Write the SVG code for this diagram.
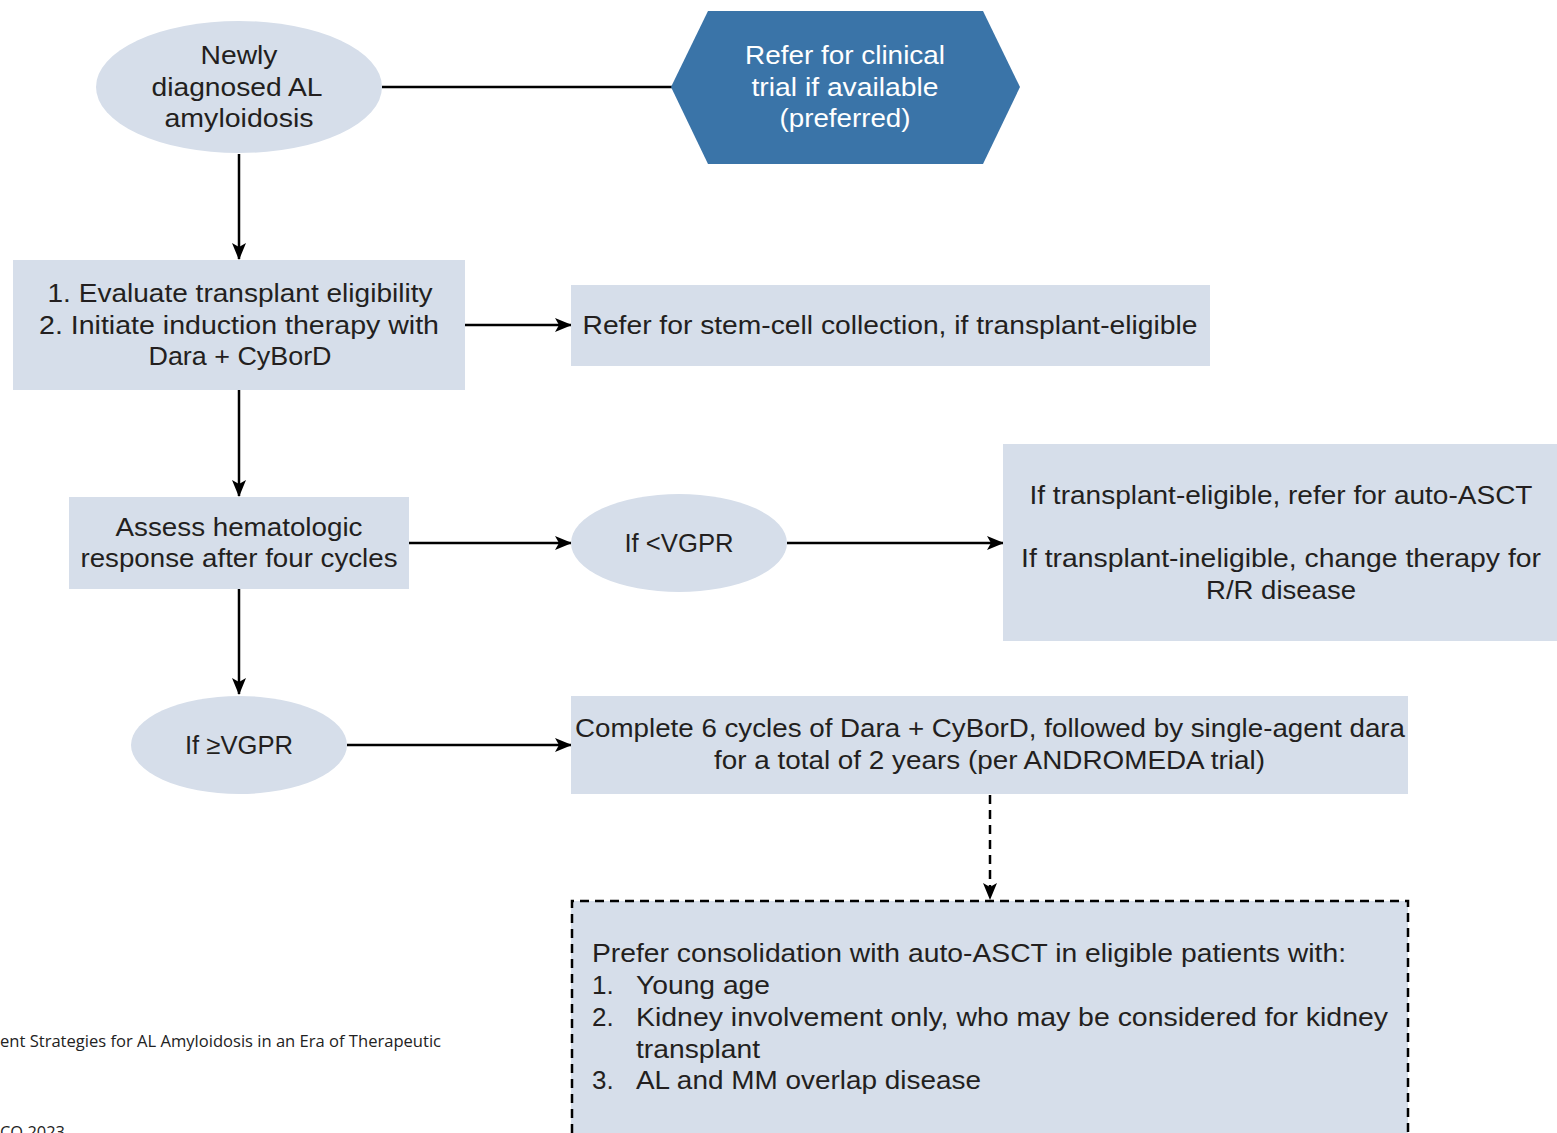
<svg xmlns="http://www.w3.org/2000/svg" width="1557" height="1133" viewBox="0 0 1557 1133">
<style>
.box{fill:#d6deea}
.t{font-family:"Liberation Sans",Arial,sans-serif;font-size:26px;fill:#231f20;text-anchor:middle}
.c{font-family:"Liberation Sans",Arial,sans-serif;font-size:26px;fill:#231f20}
.w{font-family:"Liberation Sans",Arial,sans-serif;font-size:26px;fill:#ffffff;text-anchor:middle}
.ln{stroke:#000;stroke-width:2.5;fill:none}
.dash{stroke:#000;stroke-width:2.5;fill:none;stroke-dasharray:9,6}
.foot{font-family:"Open Sans","Liberation Sans",sans-serif;font-size:16px;fill:#222}
</style>
<defs>
<marker id="ah" viewBox="0 0 17 14" refX="16" refY="7" markerWidth="17" markerHeight="14" markerUnits="userSpaceOnUse" orient="auto">
<path d="M0,0 L17,7 L0,14 L4,7 Z" fill="#000"/>
</marker>
</defs>
<rect width="1557" height="1133" fill="#fff"/>
<g id="connectors">
<line class="ln" x1="382" y1="87" x2="672" y2="87"/>
<line class="ln" x1="239" y1="154" x2="239" y2="259" marker-end="url(#ah)"/>
<line class="ln" x1="465" y1="325" x2="571" y2="325" marker-end="url(#ah)"/>
<line class="ln" x1="239" y1="390" x2="239" y2="496" marker-end="url(#ah)"/>
<line class="ln" x1="409" y1="543" x2="571" y2="543" marker-end="url(#ah)"/>
<line class="ln" x1="787" y1="543" x2="1003" y2="543" marker-end="url(#ah)"/>
<line class="ln" x1="239" y1="589" x2="239" y2="694" marker-end="url(#ah)"/>
<line class="ln" x1="347" y1="745" x2="571" y2="745" marker-end="url(#ah)"/>
<line class="dash" x1="990" y1="795" x2="990" y2="899" marker-end="url(#ah)"/>
</g>
<g id="n-start">
<ellipse class="box" cx="239" cy="87" rx="143" ry="66"/>
<text class="t" x="239" y="64" textLength="77" lengthAdjust="spacingAndGlyphs">Newly</text>
<text class="t" x="237" y="96" textLength="171" lengthAdjust="spacingAndGlyphs">diagnosed AL</text>
<text class="t" x="239" y="127" textLength="149" lengthAdjust="spacingAndGlyphs">amyloidosis</text>
</g>
<g id="n-trial">
<polygon points="671,87 708,11 983,11 1020,87 983,164 708,164" fill="#3a74a8"/>
<text class="w" x="845" y="64" textLength="200" lengthAdjust="spacingAndGlyphs">Refer for clinical</text>
<text class="w" x="845" y="96" textLength="187" lengthAdjust="spacingAndGlyphs">trial if available</text>
<text class="w" x="845" y="127" textLength="131" lengthAdjust="spacingAndGlyphs">(preferred)</text>
</g>
<g id="n-eval">
<rect class="box" x="13" y="260" width="452" height="130"/>
<text class="t" x="240" y="302" textLength="385" lengthAdjust="spacingAndGlyphs">1. Evaluate transplant eligibility</text>
<text class="t" x="239" y="334" textLength="400" lengthAdjust="spacingAndGlyphs">2. Initiate induction therapy with</text>
<text class="t" x="240" y="365" textLength="183" lengthAdjust="spacingAndGlyphs">Dara + CyBorD</text>
</g>
<g id="n-stem">
<rect class="box" x="571" y="285" width="639" height="81"/>
<text class="t" x="890" y="334" textLength="615" lengthAdjust="spacingAndGlyphs">Refer for stem-cell collection, if transplant-eligible</text>
</g>
<g id="n-assess">
<rect class="box" x="69" y="497" width="340" height="92"/>
<text class="t" x="239" y="536" textLength="247" lengthAdjust="spacingAndGlyphs">Assess hematologic</text>
<text class="t" x="239" y="567" textLength="317" lengthAdjust="spacingAndGlyphs">response after four cycles</text>
</g>
<g id="n-lt">
<ellipse class="box" cx="679" cy="543" rx="108" ry="49"/>
<text class="t" x="679" y="552" textLength="109" lengthAdjust="spacingAndGlyphs">If &lt;VGPR</text>
</g>
<g id="n-refer">
<rect class="box" x="1003" y="444" width="554" height="197"/>
<text class="t" x="1281" y="504" textLength="503" lengthAdjust="spacingAndGlyphs">If transplant-eligible, refer for auto-ASCT</text>
<text class="t" x="1281" y="567" textLength="520" lengthAdjust="spacingAndGlyphs">If transplant-ineligible, change therapy for</text>
<text class="t" x="1281" y="599" textLength="150" lengthAdjust="spacingAndGlyphs">R/R  disease</text>
</g>
<g id="n-ge">
<ellipse class="box" cx="239" cy="745" rx="108" ry="49"/>
<text class="t" x="239" y="754" textLength="108" lengthAdjust="spacingAndGlyphs">If ≥VGPR</text>
</g>
<g id="n-complete">
<rect class="box" x="571" y="696" width="837" height="98"/>
<text class="c" x="575" y="737" textLength="830" lengthAdjust="spacingAndGlyphs">Complete 6 cycles of Dara + CyBorD, followed by single-agent dara</text>
<text class="c" x="714" y="769" textLength="551" lengthAdjust="spacingAndGlyphs">for a total of 2 years (per ANDROMEDA trial)</text>
</g>
<g id="n-consol">
<rect class="box" x="571" y="901" width="837" height="240"/>
<path class="dash" d="M572,1133 V901 H1408 V1133"/>
<text class="c" x="592" y="962" textLength="754" lengthAdjust="spacingAndGlyphs">Prefer consolidation with auto-ASCT in eligible patients with:</text>
<text class="c" x="592" y="994">1.</text>
<text class="c" x="636" y="994" textLength="134" lengthAdjust="spacingAndGlyphs">Young age</text>
<text class="c" x="592" y="1026">2.</text>
<text class="c" x="636" y="1026" textLength="752" lengthAdjust="spacingAndGlyphs">Kidney involvement only, who may be considered for kidney</text>
<text class="c" x="636" y="1058" textLength="124" lengthAdjust="spacingAndGlyphs">transplant</text>
<text class="c" x="592" y="1089">3.</text>
<text class="c" x="636" y="1089" textLength="345" lengthAdjust="spacingAndGlyphs">AL and MM overlap disease</text>
</g>
<g id="footer">
<text class="foot" x="0" y="1047" textLength="441" lengthAdjust="spacingAndGlyphs">ent Strategies for AL Amyloidosis in an Era of Therapeutic</text>
<text class="foot" x="0" y="1138" textLength="65" lengthAdjust="spacingAndGlyphs">CO 2023</text>
</g>
</svg>
